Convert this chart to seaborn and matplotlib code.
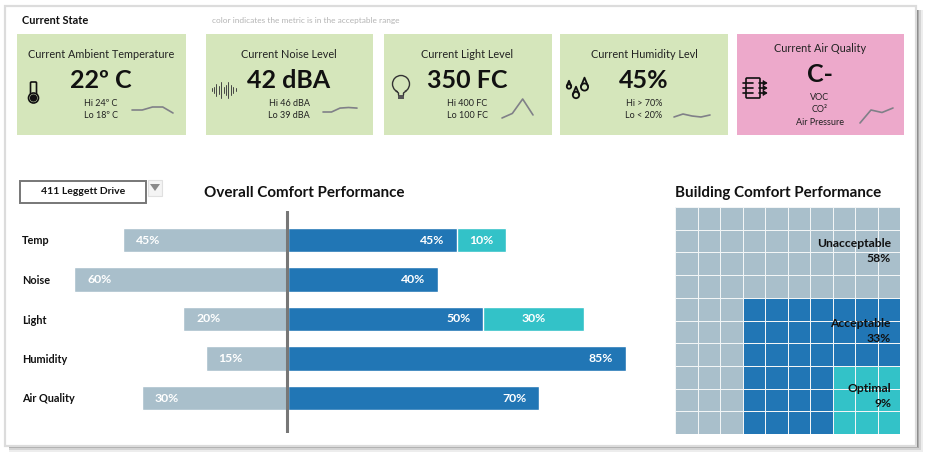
import numpy as np
import pandas as pd
import matplotlib
matplotlib.use("Agg")
import matplotlib.pyplot as plt
import seaborn as sns
from matplotlib.colors import ListedColormap
from matplotlib.patches import Rectangle, Circle, Polygon, FancyBboxPatch

W, H = 930, 461
GREEN, PINK = "#d5e6bb", "#eda9cb"
GRAY, BLUE, TEAL = "#a9bfcb", "#2176b5", "#33c2c8"
INK = "#111111"

# cards
card_titles = ["Current Ambient Temperature", "Current Noise Level", "Current Light Level",
               "Current Humidity Levl", "Current Air Quality"]
card_values = ["22º C", "42 dBA", "350 FC", "45%", "C-"]
card_notes = [["Hi 24º C", "Lo 18º C"], ["Hi 46 dBA", "Lo 39 dBA"], ["Hi 400 FC", "Lo 100 FC"],
              ["Hi > 70%", "Lo < 20%"], ["VOC", "CO²", "Air Pressure"]]
card_colors = [GREEN, GREEN, GREEN, GREEN, PINK]
spark_temp = [20.5, 20.5, 22, 22, 19]
spark_noise = [40, 40, 42, 42.3, 42]
spark_light = [100, 160, 350, 140]
spark_humidity = [43, 46, 44, 43, 45]
spark_air = [1, 14, 11.5, 16]
sparks = [spark_temp, spark_noise, spark_light, spark_humidity, spark_air]

# bars: lengths, the printed labels don't quite follow them
categories = ["Temp", "Noise", "Light", "Humidity", "Air Quality"]
unacceptable = [44, 57, 28, 22, 39]
acceptable = [45, 40, 52, 90, 67]
optimal = [13, 0, 27, 0, 0]
unacceptable_labels = ["45%", "60%", "20%", "15%", "30%"]
acceptable_labels = ["45%", "40%", "50%", "85%", "70%"]
optimal_labels = ["10%", "", "30%", "", ""]

# waffle, cells per row
waffle_gray = [10, 10, 10, 10, 3, 3, 3, 3, 3, 3]
waffle_blue = [0, 0, 0, 0, 7, 7, 7, 4, 4, 4]
waffle_teal = [0, 0, 0, 0, 0, 0, 0, 3, 3, 3]
waffle_names = ["Unacceptable\n58%", "Acceptable\n33%", "Optimal\n9%"]

sns.set_theme(style="white")
plt.rcParams["font.family"] = ["Lato", "DejaVu Sans"]


def px_axes(fig, x0, y0, x1, y1):
    return fig.add_axes([x0 / W, 1 - y1 / H, (x1 - x0) / W, (y1 - y0) / H])


def draw_icons(bg):
    k = INK
    # thermometer
    bg.add_patch(FancyBboxPatch((31.5, 83), 4, 15, boxstyle="round,pad=1", fc="none", ec=k, lw=1.2))
    bg.add_patch(Circle((33.5, 98), 5, fc=GREEN, ec=k, lw=1.2))
    bg.add_patch(Circle((33.5, 98), 3, fc=k, ec=k))
    # sound wave
    xs = np.arange(211.5, 236, 2.4)
    hs = [1.5, 3, 6, 4, 8, 3, 5, 8, 5, 3, 1.5]
    for x, h in zip(xs, hs):
        bg.plot([x, x], [90 - h, 90 + h], color="#444444", lw=0.7)
    # bulb
    bg.add_patch(Circle((401, 84), 8.5, fc="none", ec="#333333", lw=1.0))
    bg.add_patch(Rectangle((397.5, 91), 7, 7, fc=GREEN, ec="none"))
    bg.plot([396, 398.5, 398.5], [91, 93, 95], color="#333333", lw=1.0)
    bg.plot([406, 403.5, 403.5], [91, 93, 95], color="#333333", lw=1.0)
    bg.add_patch(Rectangle((398, 95), 6, 4, fc="#555555", ec="none"))
    # drops
    for cx, cy, r in [(569, 86.5, 2.2), (576, 95, 3.2), (584.5, 87, 3.6)]:
        bg.add_patch(Circle((cx, cy), r, fc="none", ec=k, lw=1.3))
        bg.plot([cx - r, cx, cx + r], [cy - 0.5, cy - r * 2.6, cy - 0.5], color=k, lw=1.3)
    # air filter
    bg.add_patch(FancyBboxPatch((747, 79), 12, 18, boxstyle="round,pad=1", fc="none", ec=k, lw=1.2))
    for y in [83, 88, 93]:
        bg.plot([743, 753], [y, y], color=k, lw=1.2)
        bg.plot([759, 766], [y, y], color=k, lw=1.2)
        bg.add_patch(Polygon([[763, y - 2.5], [767, y], [763, y + 2.5]], fc=k, ec=k, lw=0.5))


def main():
    fig = plt.figure(figsize=(W / 100, H / 100), dpi=100, facecolor="white")
    bg = fig.add_axes([0, 0, 1, 1])
    bg.set_xlim(0, W)
    bg.set_ylim(H, 0)
    bg.axis("off")

    # page frame with shadow
    for off, a in [(7, 0.10), (5, 0.16), (3, 0.3), (1.5, 0.45)]:
        bg.add_patch(Rectangle((9, 10), 907 + off, 435 + off, fc="#555555", ec="none", alpha=a))
    bg.add_patch(Rectangle((5, 6), 911, 440, fc="white", ec="#dcdcdc", lw=1.6))

    bg.text(22, 21, "Current State", fontsize=7.9, fontweight="bold", color=INK, va="center")
    bg.text(212, 20, "color indicates the metric is in the acceptable range", fontsize=5.95,
            color="#b4b4b4", va="center")

    card_x = [(17, 186), (206, 373), (384, 552), (560, 728), (737, 904)]
    text_cx = [101, 289, 467, 644, 820]
    spark_box = [(132, 107, 173, 113), (323, 107.5, 357, 112), (502, 99, 533, 118),
                 (674, 114, 710, 117), (860, 108, 893, 123)]
    for i, (x0, x1) in enumerate(card_x):
        bg.add_patch(Rectangle((x0, 34), x1 - x0, 101, fc=card_colors[i], ec="none"))
        air = i == 4
        bg.text(text_cx[i], 48 if air else 54, card_titles[i], fontsize=7.8, color="#222222",
                ha="center", va="center")
        bg.text(text_cx[i], 75 if air else 80, card_values[i], fontsize=18, fontweight="bold",
                color=INK, ha="center", va="center")
        ys = [97, 109, 122] if air else [103, 115]
        for y, note in zip(ys, card_notes[i]):
            bg.text(text_cx[i], y, note, fontsize=6.5, color="#222222", ha="center", va="center")
        b = spark_box[i]
        sp = px_axes(fig, *b)
        sns.lineplot(x=range(len(sparks[i])), y=sparks[i], ax=sp, color="#808088", lw=1.2)
        sp.margins(0)
        sp.axis("off")
        sp.patch.set_alpha(0)
        for line in sp.lines:
            line.set_clip_on(False)

    draw_icons(bg)

    # selector
    bg.add_patch(Rectangle((19.5, 180.5), 126, 22, fc="white", ec="#777777", lw=1.4))
    bg.text(83, 191.5, "411 Leggett Drive", fontsize=7.5, fontweight="bold", color=INK,
            ha="center", va="center")
    bg.add_patch(Rectangle((148, 180), 14, 16, fc="#f4f4f4", ec="#e0e0e0", lw=0.8))
    bg.add_patch(Polygon([[150, 184], [160, 184], [155, 191]], fc="#8a8a8a", ec="none"))

    bg.text(304, 192.5, "Overall Comfort Performance", fontsize=10.9, fontweight="bold", color=INK,
            ha="center", va="center")
    bg.text(778.5, 192.5, "Building Comfort Performance", fontsize=10.9, fontweight="bold", color=INK,
            ha="center", va="center")

    # diverging bars
    scale = 3.75
    left_px, right_px, zero_px = 60, 640, 288
    ax = px_axes(fig, left_px, 211, right_px, 433)
    ax.patch.set_alpha(0)
    df = pd.DataFrame({"cat": categories,
                       "neg": -np.array(unacceptable, float),
                       "acc": np.array(acceptable, float),
                       "tot": np.array(acceptable, float) + np.array(optimal, float)})
    sns.barplot(df, y="cat", x="neg", ax=ax, color=GRAY, saturation=1, width=0.62, order=categories)
    sns.barplot(df, y="cat", x="tot", ax=ax, color=TEAL, saturation=1, width=0.62, order=categories)
    sns.barplot(df, y="cat", x="acc", ax=ax, color=BLUE, saturation=1, width=0.62, order=categories)
    ax.set_xlim((left_px - zero_px) / scale, (right_px - zero_px) / scale)
    ax.set_ylim((433 - 240) / 39.5, (211 - 240) / 39.5)
    ax.axvline(-0.2, color="#777777", lw=2.2)
    ax.set_xlabel("")
    ax.set_ylabel("")
    ax.set_xticks([])
    ax.tick_params(axis="y", length=0, pad=27.5)
    ax.set_yticks(range(len(categories)))
    ax.set_yticklabels(categories, ha="left", fontsize=7.8, fontweight="bold", color=INK)
    sns.despine(ax=ax, left=True, bottom=True)
    for i in range(len(categories)):
        ax.text(-unacceptable[i] + 3.5, i, unacceptable_labels[i], color="white", fontsize=8.8,
                fontweight="bold", ha="left", va="center")
        ax.text(acceptable[i] - 3.3, i, acceptable_labels[i], color="white", fontsize=8.8,
                fontweight="bold", ha="right", va="center")
        if optimal[i]:
            ax.text(acceptable[i] + optimal[i] / 2, i, optimal_labels[i], color="white", fontsize=8.8,
                    fontweight="bold", ha="center", va="center")

    # waffle
    rows = [[0] * g + [1] * b + [2] * t for g, b, t in zip(waffle_gray, waffle_blue, waffle_teal)]
    wa = px_axes(fig, 675, 207, 900, 434)
    sns.heatmap(np.array(rows), ax=wa, cmap=ListedColormap([GRAY, BLUE, TEAL]), vmin=0, vmax=2,
                cbar=False, linewidths=0.55, linecolor="#f2f5f6", xticklabels=False, yticklabels=False)
    for y, name in zip([251, 331, 396], waffle_names):
        wa.text(9.6, (y - 207) / 22.7, name, fontsize=8.7, fontweight="bold", color=INK,
                ha="right", va="center", linespacing=1.35)

    fig.savefig("out.png", dpi=100)


if __name__ == "__main__":
    main()
